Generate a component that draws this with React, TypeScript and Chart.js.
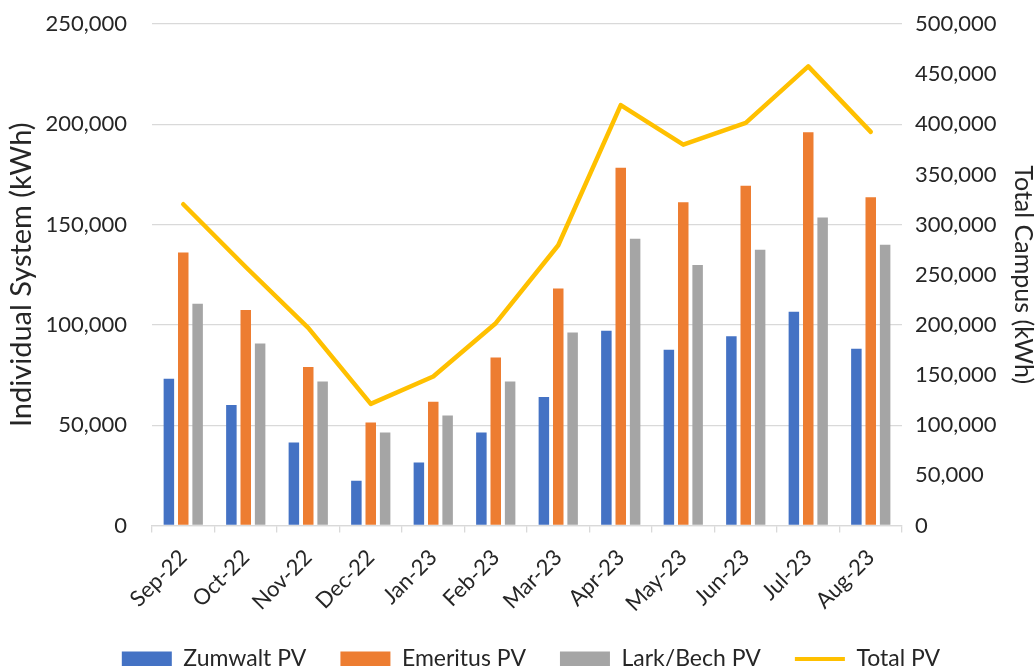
import { useEffect, useRef } from 'react';
import { Chart, registerables } from 'chart.js';

Chart.register(...registerables);

const months = ['Sep-22', 'Oct-22', 'Nov-22', 'Dec-22', 'Jan-23', 'Feb-23', 'Mar-23', 'Apr-23', 'May-23', 'Jun-23', 'Jul-23', 'Aug-23'];
const zumwalt = [73200, 60100, 41400, 22300, 31400, 46400, 64100, 97100, 87600, 94300, 106500, 88100];
const emeritus = [136100, 107400, 79000, 51400, 61700, 83800, 118200, 178400, 161200, 169400, 196000, 163600];
const larkBech = [110500, 90700, 71800, 46400, 54800, 71800, 96200, 143000, 129900, 137500, 153600, 139900];
const totalPV = [320300, 257700, 197000, 121300, 148500, 201700, 279400, 419200, 379700, 401400, 457700, 392400];

const FONT = 'Lato, "Open Sans", sans-serif';
const TEXT = '#262626';
const GRID = '#d9d9d9';
const BLUE = '#4472C4';
const ORANGE = '#ED7D31';
const GRAY = '#A5A5A5';
const GOLD = '#FFC000';

const fmt = (v: number | string) => Number(v).toLocaleString('en-US');

export default function App() {
  const ref = useRef<HTMLCanvasElement>(null);
  useEffect(() => {
    document.body.style.margin = '0';
    const chart = new Chart(ref.current!, {
      type: 'bar',
      data: {
        labels: months,
        datasets: [
          { type: 'bar', label: 'Zumwalt PV', data: zumwalt, backgroundColor: BLUE, yAxisID: 'y', order: 1, barPercentage: 0.73, categoryPercentage: 0.69 },
          { type: 'bar', label: 'Emeritus PV', data: emeritus, backgroundColor: ORANGE, yAxisID: 'y', order: 1, barPercentage: 0.73, categoryPercentage: 0.69 },
          { type: 'bar', label: 'Lark/Bech PV', data: larkBech, backgroundColor: GRAY, yAxisID: 'y', order: 1, barPercentage: 0.73, categoryPercentage: 0.69 },
          { type: 'line', label: 'Total PV', data: totalPV, borderColor: GOLD, backgroundColor: GOLD, borderWidth: 4.5, pointRadius: 0, tension: 0, yAxisID: 'y1', order: 0, borderJoinStyle: 'round', borderCapStyle: 'round' } as any,
        ],
      },
      options: {
        responsive: false,
        animation: false,
        layout: { padding: { top: 24, left: 26, right: 0, bottom: -14.5 } },
        plugins: {
          tooltip: { enabled: false },
          legend: {
            position: 'bottom',
            labels: {
              color: TEXT,
              font: { family: FONT, size: 23 },
              usePointStyle: true,
              pointStyleWidth: 50,
              boxWidth: 50,
              boxHeight: 15,
              padding: 34,
              sort: (a: any, b: any) => a.datasetIndex - b.datasetIndex,
              generateLabels: (c: any) => {
                const items = (Chart.defaults.plugins.legend.labels as any).generateLabels(c);
                return items.map((it: any) =>
                  it.datasetIndex === 3
                    ? { ...it, pointStyle: 'line', lineWidth: 4, strokeStyle: GOLD, fillStyle: GOLD }
                    : { ...it, pointStyle: 'rect', lineWidth: 0, strokeStyle: it.fillStyle }
                );
              },
            },
          },
        },
        scales: {
          x: {
            grid: { display: true, drawOnChartArea: false, drawTicks: true, tickLength: 7, color: GRID, lineWidth: 1.3, offset: true },
            border: { display: true, color: GRID, width: 1.3 },
            ticks: { color: TEXT, font: { family: FONT, size: 22 }, minRotation: 45, maxRotation: 45, padding: 12, autoSkip: false },
            afterFit: (s: any) => { s.height = 88; s.paddingLeft = 0; s.paddingRight = 0; },
          },
          y: {
            position: 'left',
            min: 0,
            max: 250000,
            grid: { color: GRID, lineWidth: 1.3, drawTicks: false },
            border: { display: false },
            ticks: { stepSize: 50000, color: TEXT, font: { family: FONT, size: 22 }, padding: 25, callback: (v: any) => fmt(v) },
            title: { display: true, text: 'Individual System (kWh)', color: TEXT, font: { family: FONT, size: 29 }, padding: { top: -22, bottom: 0 } },
            afterFit: (s: any) => { s.width = 126; s.paddingTop = 10; s.paddingBottom = 10; },
          },
          y1: {
            position: 'right',
            min: 0,
            max: 500000,
            grid: { display: false, drawTicks: false },
            border: { display: false },
            ticks: { stepSize: 50000, color: TEXT, font: { family: FONT, size: 22 }, padding: 13, callback: (v: any) => fmt(v) },
            title: { display: true, text: 'Total Campus (kWh)', color: TEXT, font: { family: FONT, size: 25 }, padding: { top: -2, bottom: 0 } },
            afterFit: (s: any) => { s.width = 134; s.paddingTop = 10; s.paddingBottom = 10; },
          },
        },
      },
    });
    return () => chart.destroy();
  }, []);
  return (
    <div style={{ width: 1036, height: 666 }}>
      <canvas ref={ref} width={1036} height={666} style={{ display: 'block' }} />
    </div>
  );
}
